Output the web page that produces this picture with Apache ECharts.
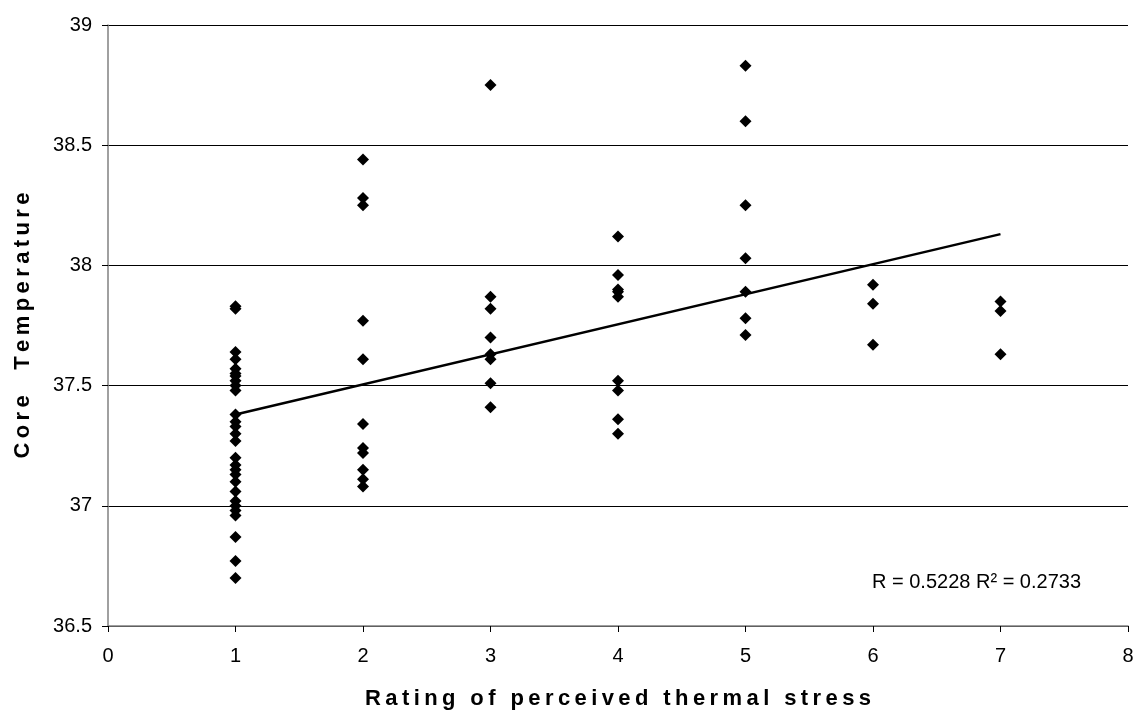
<!DOCTYPE html>
<html>
<head>
<meta charset="utf-8">
<title>Core temperature vs perceived thermal stress</title>
<script src="https://cdn.jsdelivr.net/npm/echarts@6/dist/echarts.min.js"></script>
<style>
html,body{margin:0;padding:0;background:#fff;}
#main{width:1138px;height:713px;}
</style>
</head>
<body>
<div id="main"></div>
<script>
// readings per rating (x) value
var rating1 = [37.83, 37.82, 37.64, 37.61, 37.57, 37.55, 37.54, 37.52, 37.50, 37.48, 37.38, 37.35, 37.33, 37.30,
	37.27, 37.20, 37.17, 37.15, 37.13, 37.10, 37.06, 37.02, 37.00, 36.98, 36.96, 36.87, 36.77, 36.70];
var rating2 = [38.44, 38.28, 38.25, 37.77, 37.61, 37.34, 37.24, 37.22, 37.15, 37.11, 37.08];
var rating3 = [38.75, 37.87, 37.82, 37.70, 37.63, 37.61, 37.51, 37.41];
var rating4 = [38.12, 37.96, 37.90, 37.89, 37.87, 37.52, 37.48, 37.36, 37.30];
var rating5 = [38.83, 38.60, 38.25, 38.03, 37.89, 37.78, 37.71];
var rating6 = [37.92, 37.84, 37.67];
var rating7 = [37.85, 37.81, 37.63];
var ratings = [1, 2, 3, 4, 5, 6, 7];
var trendX = [1, 7];
var trendY = [37.38, 38.13];
var statText = "R = 0.5228 R\u00b2 = 0.2733";

var groups = [rating1, rating2, rating3, rating4, rating5, rating6, rating7];
var points = [];
groups.forEach(function(vals, i){
	vals.forEach(function(v){ points.push([ratings[i], v]); });
});
var trend = trendX.map(function(x, i){ return [x, trendY[i]]; });

// titles in the original are widely spaced
function spaced(s){
	return s.split('').join('\u2009');
}

var font = 'Liberation Sans, Arial, sans-serif';
var myChart = echarts.init(document.getElementById('main'));
myChart.setOption({
	animation: false,
	backgroundColor: '#fff',
	grid: { left: 108, right: 10, top: 25, bottom: 87, outerBoundsMode: 'none', containLabel: false },
	xAxis: {
		type: 'value',
		min: 0, max: 8, interval: 1,
		name: spaced('Rating of perceived thermal stress'),
		nameLocation: 'middle',
		nameGap: 62,
		nameTextStyle: { color: '#000', fontFamily: font, fontSize: 22, fontWeight: 'bold' },
		axisLine: { onZero: false, lineStyle: { color: '#808080', width: 1.5 } },
		axisTick: { inside: false, length: 6, lineStyle: { color: '#000' } },
		axisLabel: { color: '#000', fontFamily: font, fontSize: 20, margin: 20 },
		splitLine: { show: false }
	},
	yAxis: {
		type: 'value',
		min: 36.5, max: 39, interval: 0.5,
		name: spaced('Core  Temperature'),
		nameLocation: 'middle',
		nameGap: 74,
		nameRotate: 90,
		nameTextStyle: { color: '#000', fontFamily: font, fontSize: 22, fontWeight: 'bold' },
		axisLine: { show: true, lineStyle: { color: '#808080', width: 1.5 } },
		axisTick: { show: true, length: 6, lineStyle: { color: '#000' } },
		axisLabel: { color: '#000', fontFamily: font, fontSize: 20, margin: 16 },
		splitLine: { show: true, lineStyle: { color: '#000', width: 1 } }
	},
	series: [
		{
			type: 'scatter',
			data: points,
			symbol: 'diamond',
			symbolSize: 12,
			itemStyle: { color: '#000', opacity: 1 }
		},
		{
			type: 'line',
			data: trend,
			symbol: 'none',
			lineStyle: { color: '#000', width: 2.5 }
		}
	],
	graphic: [{
		type: 'text',
		left: 872,
		top: 572,
		style: { text: statText, fill: '#000', font: '20px ' + font }
	}]
});
</script>
</body>
</html>
